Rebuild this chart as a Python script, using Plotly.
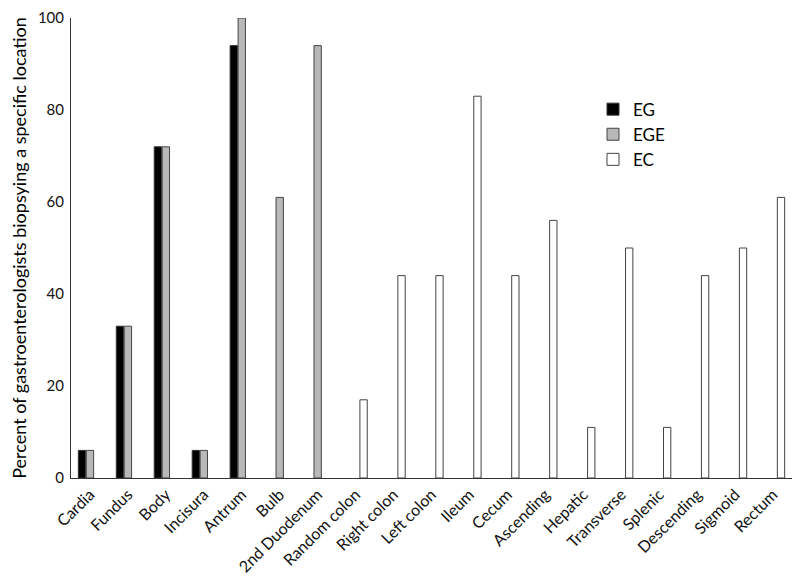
import plotly.graph_objects as go

categories = ["Cardia", "Fundus", "Body", "Incisura", "Antrum", "Bulb", "2nd Duodenum",
              "Random colon", "Right colon", "Left colon", "Ileum", "Cecum", "Ascending",
              "Hepatic", "Transverse", "Splenic", "Descending", "Sigmoid", "Rectum"]
eg = [6, 33, 72, 6, 94, None, None, None, None, None, None, None, None, None, None, None, None, None, None]
ege = [6, 33, 72, 6, 100, 61, 94, None, None, None, None, None, None, None, None, None, None, None, None]
ec = [None, None, None, None, None, None, None, 17, 44, 44, 83, 44, 56, 11, 50, 11, 44, 50, 61]
y_ticks = [0, 20, 40, 60, 80, 100]

FONT = "Lato, 'Open Sans', sans-serif"
fig = go.Figure()
fig.add_trace(go.Bar(name="EG", x=categories, y=eg, marker=dict(color="#000000", line=dict(color="#333333", width=1))))
fig.add_trace(go.Bar(name="EGE", x=categories, y=ege, marker=dict(color="#b8b8b8", line=dict(color="#444444", width=1))))
fig.add_trace(go.Bar(name="EC", x=categories, y=ec, marker=dict(color="#ffffff", line=dict(color="#444444", width=1))))

# page body has an 8px margin: compensate so the plot lands where the reference has it
fig.update_layout(
    width=792, height=574,
    margin=dict(l=63, r=8, t=10, b=104, autoexpand=False),
    paper_bgcolor="white", plot_bgcolor="white",
    barmode="group", bargap=0.37, bargroupgap=0.08,
    font=dict(family=FONT, color="#111111", size=15),
    legend=dict(x=0.724, y=0.84, xanchor="left", yanchor="top",
                font=dict(size=17, color="#000000"), bgcolor="rgba(0,0,0,0)",
                itemwidth=30, tracegroupgap=0),
    showlegend=True,
)
fig.update_xaxes(range=[-0.5, 18.5], automargin=False, showline=True, linecolor="#333333", linewidth=1,
                 ticks="", tickangle=-45, tickfont=dict(size=16, color="#111111"), showgrid=False)
fig.update_yaxes(range=[0, 100], automargin=False, tickvals=y_ticks, showline=True, linecolor="#333333",
                 linewidth=1, ticks="", showgrid=False, zeroline=False, ticklabelstandoff=3,
                 tickfont=dict(size=15, color="#111111"),
                 title=dict(text="Percent of gastroenterologists biopsying a specific location",
                            font=dict(size=18, color="#000000"), standoff=10))
fig.write_html("out.html")
